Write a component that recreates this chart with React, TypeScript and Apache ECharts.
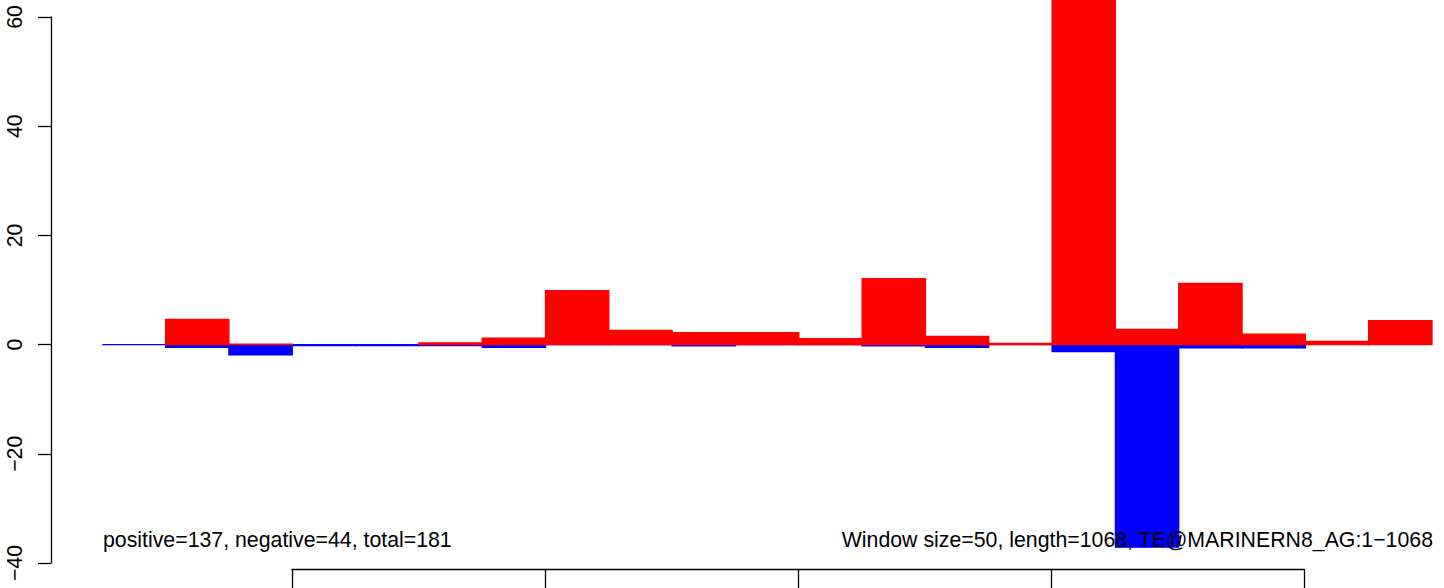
import React, { useEffect, useRef } from "react";
import * as echarts from "echarts";

// Window start positions (window size 50)
const windowStarts = [50, 100, 150, 200, 250, 300, 350, 400, 450, 500, 550, 600, 650, 700, 750, 800, 850, 900, 950, 1000, 1050];
const windowSize = 50;
// Positive (red) values per window
const positiveValues: (number | null)[] = [null, 4.6, 0.1, null, null, 0.3, 1.2, 9.9, 2.6, 2.2, 2.2, 1.1, 12.1, 1.5, 0.2, 79, 2.8, 11.2, 1.9, 0.6, 4.4];
// Negative (blue) values per window
const negativeValues: (number | null)[] = [0, -0.5, -1.9, -0.2, -0.2, -0.2, -0.5, 0, 0, -0.25, 0, 0, -0.25, -0.5, 0, -1.3, -37.1, -0.6, -0.6, null, null];

const yTicks = { min: -40, max: 60, interval: 20 };
const xTicks = { min: 200, max: 1000, interval: 200 };

const leftNote = "positive=137, negative=44, total=181";
const rightNote = "Window size=50, length=1068, TE@MARINERN8_AG:1\u22121068";

const FONT = "'Liberation Sans', Arial, Helvetica, sans-serif";

function buildData(values: (number | null)[]) {
  const out: number[][] = [];
  values.forEach((v, i) => {
    if (v === null) return;
    out.push([windowStarts[i], windowStarts[i] + windowSize, v]);
  });
  return out;
}

function makeRender(color: string) {
  return (params: any, api: any) => {
    const s = api.coord([api.value(0), 0]);
    const e = api.coord([api.value(1), api.value(2)]);
    return {
      type: "rect",
      shape: {
        x: s[0],
        y: Math.min(s[1], e[1]),
        width: e[0] - s[0],
        height: Math.abs(e[1] - s[1]),
      },
      style: { fill: color, stroke: color, lineWidth: 1.3 },
    };
  };
}

export default function App() {
  const ref = useRef<HTMLDivElement>(null);
  useEffect(() => {
    if (!ref.current) return;
    const chart = echarts.init(ref.current, undefined, { renderer: "svg" });
    chart.setOption({
      animation: false,
      backgroundColor: "#ffffff",
      grid: [
        { left: 51, right: 12, top: 17, bottom: 25 },
        { left: 292, width: 1012, top: 559, height: 10 },
      ],
      xAxis: [
        {
          type: "value",
          gridIndex: 0,
          min: 9.5,
          max: 1100,
          show: false,
        },
        {
          type: "value",
          gridIndex: 1,
          min: xTicks.min,
          max: xTicks.max,
          interval: xTicks.interval,
          position: "bottom",
          axisLine: { show: true, onZero: false, lineStyle: { color: "#000", width: 1.3 } },
          axisTick: { show: true, length: 22, lineStyle: { color: "#000", width: 1.3 } },
          axisLabel: { show: false },
          splitLine: { show: false },
        },
      ],
      yAxis: [
        {
          type: "value",
          gridIndex: 0,
          min: yTicks.min,
          max: yTicks.max,
          interval: yTicks.interval,
          axisLine: { show: true, lineStyle: { color: "#000", width: 1.3 } },
          axisTick: { show: true, length: 13, lineStyle: { color: "#000", width: 1.3 } },
          axisLabel: {
            rotate: 90,
            margin: 26,
            fontSize: 21.3,
            fontFamily: FONT,
            color: "#000",
            formatter: (v: number) => (v < 0 ? "\u2212" + Math.abs(v) : String(v)),
          },
          splitLine: { show: false },
        },
        { type: "value", gridIndex: 1, show: false },
      ],
      series: [
        {
          name: "negative",
          type: "custom",
          xAxisIndex: 0,
          yAxisIndex: 0,
          clip: false,
          renderItem: makeRender("#0000ff"),
          data: buildData(negativeValues),
        },
        {
          name: "positive",
          type: "custom",
          xAxisIndex: 0,
          yAxisIndex: 0,
          clip: false,
          renderItem: makeRender("#ff0000"),
          data: buildData(positiveValues),
        },
      ],
      graphic: [
        {
          type: "text",
          x: 103,
          y: 539.5,
          style: {
            text: leftNote,
            fontSize: 21.3,
            fontFamily: FONT,
            fill: "#000",
            align: "left",
            verticalAlign: "middle",
          },
          z: 100,
        },
        {
          type: "text",
          x: 1433,
          y: 539.5,
          style: {
            text: rightNote,
            fontSize: 21.3,
            fontFamily: FONT,
            fill: "#000",
            align: "right",
            verticalAlign: "middle",
          },
          z: 100,
        },
      ],
    });
    return () => chart.dispose();
  }, []);
  return (
    <div
      ref={ref}
      style={{ position: "fixed", left: 0, top: 0, width: 1444, height: 588 }}
    />
  );
}
